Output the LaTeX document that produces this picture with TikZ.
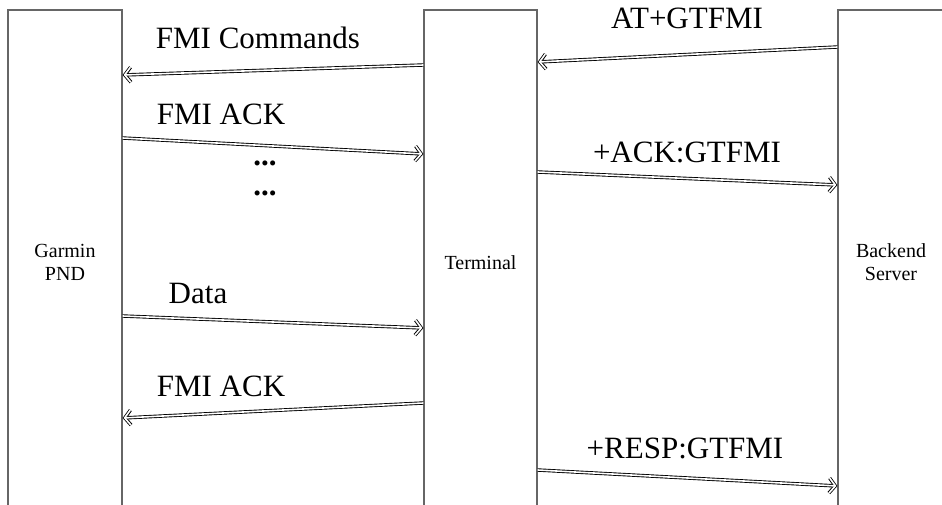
\documentclass[tikz,border=0pt]{standalone}
\usepackage{fontspec}
\setmainfont{Liberation Serif}
\usetikzlibrary{arrows.meta,positioning}

\begin{document}
\begin{tikzpicture}[x=1pt,y=-1pt,
  lane node/.style={rectangle,draw=black!60,line width=1.2pt,minimum height=505pt,
    align=center,font=\fontsize{20}{23}\selectfont},
  msg node/.style={inner sep=0pt,font=\fontsize{31}{34}\selectfont},
  msg/.style={draw=white,line width=1.6pt,shorten >=1.05pt,
    -{Straight Barb[length=6pt,width=15pt,sharp]},
    preaction={draw=black,line width=3.4pt,shorten >=0pt,
      -{Straight Barb[length=6pt,width=15pt,sharp]}}}]
  \useasboundingbox (0,0) rectangle (942,505);
  % the three lanes
  \node[lane node,minimum width=114pt] (pnd)  at (65,262.5)  {Garmin\\PND};
  \node[lane node,minimum width=113pt] (term) at (480.5,262.5) {Terminal};
  \node[lane node,minimum width=106pt] (srv)  at (891,262.5)  {Backend\\Server};

  % labels
  \node[msg node] (cmd)   at (258,38)  {FMI Commands};
  \node[msg node] (ack1)  at (221,114) {FMI ACK};
  \node[msg node] (dotsa) at (265,163) {\textbf{...}};
  \node[msg node] (dotsb) at (265,193) {\textbf{...}};
  \node[msg node] (data)  at (198,294) {Data};
  \node[msg node] (ack2)  at (221,386) {FMI ACK};
  \node[msg node] (at)    at (687,18)  {AT+GTFMI};
  \node[msg node] (ackg)  at (687,152) {+ACK:GTFMI};
  \node[msg node] (resp)  at (685,448) {+RESP:GTFMI};

  % messages
  \draw[msg] (term.west |- 0,65)  -- (pnd.east |- 0,75);
  \draw[msg] (pnd.east |- 0,138)  -- (term.west |- 0,154);
  \draw[msg] (pnd.east |- 0,316)  -- (term.west |- 0,328);
  \draw[msg] (term.west |- 0,403) -- (pnd.east |- 0,418);
  \draw[msg] (srv.west |- 0,47)   -- (term.east |- 0,62);
  \draw[msg] (term.east |- 0,172) -- (srv.west |- 0,185);
  \draw[msg] (term.east |- 0,470) -- (srv.west |- 0,486);
\end{tikzpicture}
\end{document}
